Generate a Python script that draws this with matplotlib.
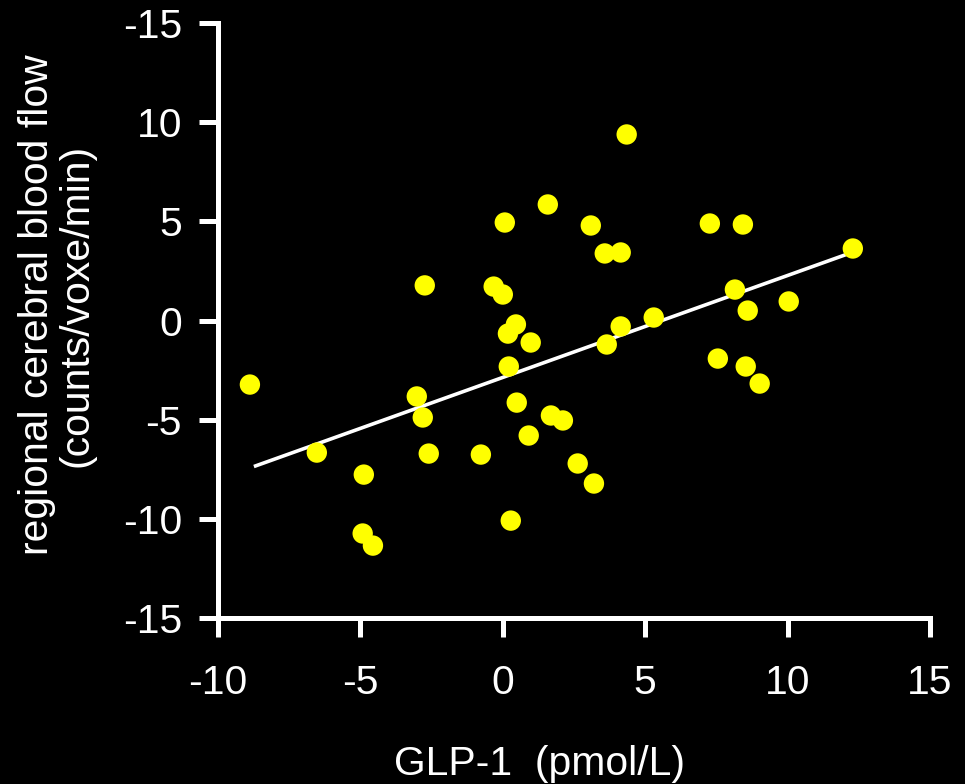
import matplotlib
matplotlib.use("Agg")
import matplotlib.pyplot as plt
import numpy as np

plt.rcParams['font.family'] = ['Liberation Sans', 'DejaVu Sans']

glp1 = [-8.88, -6.53, -4.88, -4.92, -4.56, -3.02, -2.81, -2.74, -2.60, -0.77,
        -0.32, 0.00, 0.07, 0.18, 0.21, 0.46, 0.28, 0.49, 0.91, 0.98,
        1.58, 1.69, 2.11, 2.63, 3.09, 3.20, 3.58, 3.65, 4.14, 4.14,
        4.35, 5.30, 7.27, 7.55, 8.15, 8.43, 8.53, 8.60, 9.02, 10.04, 12.29]
rcbf = [-3.23, -6.66, -7.77, -10.74, -11.35, -3.83, -4.89, 1.77, -6.71, -6.76,
        1.71, 1.31, 4.94, -0.66, -2.32, -0.20, -10.09, -4.14, -5.80, -1.11,
        5.85, -4.79, -5.04, -7.21, 4.79, -8.22, 3.38, -1.21, 3.43, -0.30,
        9.38, 0.15, 4.89, -1.92, 1.56, 4.84, -2.32, 0.50, -3.18, 0.96, 3.63]

fit_slope = 0.514
fit_intercept = -2.87
fit_x_range = [-8.74, 12.29]

xticks = [-10, -5, 0, 5, 10, 15]
xticklabels = ['-10', '-5', '0', '5', '10', '15']
yticks = [-15, -10, -5, 0, 5, 10, 15]
yticklabels = ['-15', '-10', '-5', '0', '5', '10', '-15']

fig = plt.figure(figsize=(9.65, 7.84), dpi=100, facecolor='black')
ax = fig.add_axes([218/965, (784-618)/784, (930-218)/965, (618-23)/784])
ax.set_facecolor('black')

fx = np.array(fit_x_range)
ax.plot(fx, fit_intercept + fit_slope*fx, color='white', lw=2.6, zorder=2,
        solid_capstyle='butt')
ax.scatter(glp1, rcbf, s=215, color='#FFFF00', edgecolors='none', zorder=3)

ax.set_xlim(-10, 15)
ax.set_ylim(-15, 15)
ax.set_xticks(xticks)
ax.set_xticklabels(xticklabels)
ax.set_yticks(yticks)
ax.set_yticklabels(yticklabels)

for s in ['top', 'right']:
    ax.spines[s].set_visible(False)
for s in ['left', 'bottom']:
    ax.spines[s].set_color('white')
    ax.spines[s].set_linewidth(3.6)
    ax.spines[s].set_capstyle('projecting')

ax.tick_params(axis='both', colors='white', length=14, width=3.6,
               labelsize=29.4, direction='out')
ax.tick_params(axis='x', pad=19)
ax.tick_params(axis='y', pad=12)

fig.text(539/965, 1 - 775/784, 'GLP-1  (pmol/L)', color='white', fontsize=29.4,
         ha='center', va='baseline')
fig.text(57/965, 1 - 305/784, 'regional cerebral blood flow\n(counts/voxe/min)',
         color='white', fontsize=29.4, rotation=90, ha='center', va='center',
         linespacing=1.05, multialignment='center')

fig.savefig('out.png', dpi=100, facecolor='black')
